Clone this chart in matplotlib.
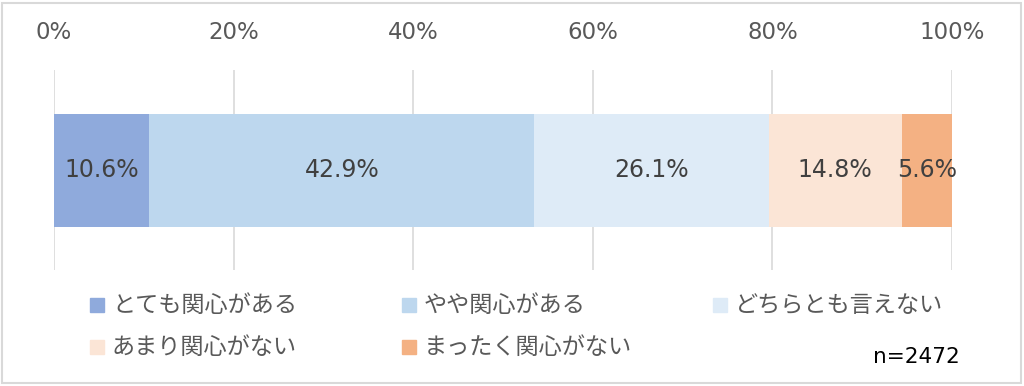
import matplotlib.pyplot as plt
from matplotlib.patches import Rectangle

plt.rcParams['font.family'] = ['Noto Sans CJK JP', 'DejaVu Sans']

categories = ['とても関心がある', 'やや関心がある', 'どちらとも言えない', 'あまり関心がない', 'まったく関心がない']
values = [10.6, 42.9, 26.1, 14.8, 5.6]
colors = ['#8FAADC', '#BDD7EE', '#DEEBF7', '#FBE5D6', '#F4B183']
ticks = [0, 20, 40, 60, 80, 100]
tick_labels = ['0%', '20%', '40%', '60%', '80%', '100%']
n_label = 'n=2472'

W, H = 1024, 386
fig = plt.figure(figsize=(W / 100, H / 100), dpi=100)
ax = fig.add_axes([54 / W, 1 - 270 / H, (952 - 54) / W, 200 / H])

left = 0
for cat, v, c in zip(categories, values, colors):
    ax.barh(0, v, left=left, height=0.565, color=c, linewidth=0, zorder=2)
    ax.text(left + v / 2, 0, f'{v}%', ha='center', va='center',
            fontsize=17, color='#404040', family='DejaVu Sans', zorder=3)
    left += v

ax.set_xlim(0, 100)
ax.set_ylim(-0.5, 0.5)
ax.set_xticks(ticks)
ax.set_xticklabels(tick_labels, fontsize=16.5, color='#595959', family='DejaVu Sans')
ax.xaxis.tick_top()
ax.tick_params(axis='x', length=0, pad=19)
ax.set_yticks([])
ax.grid(axis='x', color='#D9D9D9', linewidth=1.2, zorder=0)
ax.set_axisbelow(True)
for s in ax.spines.values():
    s.set_visible(False)

# legend, laid out in rows like the original
leg_pos = [(90, 305), (402, 305), (713, 305), (90, 347), (402, 347)]
for (px, py), cat, c in zip(leg_pos, categories, colors):
    fig.patches.append(Rectangle((px / W, 1 - (py + 7) / H), 14 / W, 14 / H,
                                 transform=fig.transFigure, color=c))
    fig.text((px + 22) / W, 1 - py / H, cat, ha='left', va='center',
             fontsize=16.7, color='#595959')

fig.text(960 / W, 1 - 357 / H, n_label, ha='right', va='center',
         fontsize=15.5, color='black', family='DejaVu Sans')

fig.patches.append(Rectangle((2 / W, 3 / H), (W - 5) / W, (H - 6) / H,
                             transform=fig.transFigure, fill=False,
                             edgecolor='#D9D9D9', linewidth=1.5))

fig.savefig('out.png', dpi=100)
